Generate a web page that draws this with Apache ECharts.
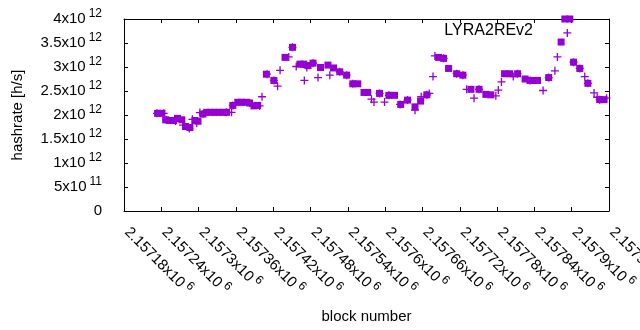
<!DOCTYPE html>
<html><head><meta charset="utf-8">
<script src="https://cdn.jsdelivr.net/npm/echarts@6/dist/echarts.min.js"></script>
<style>html,body{margin:0;padding:0;background:#fff}#c{width:640px;height:330px}</style>
</head><body><div id="c"></div>
<script>
// block numbers and hashrate (in units of 10^12 h/s), filled-square series
const squareBlocks = [2157234,2157241,2157247,2157254,2157260,2157266,2157273,2157279,2157286,2157294,2157299,2157307,2157313,2157319,2157326,2157332,2157339,2157345,2157355,2157363,2157369,2157376,2157382,2157389,2157395,2157409,2157421,2157439,2157451,2157463,2157469,2157476,2157484,2157496,2157508,2157517,2157527,2157538,2157548,2157556,2157566,2157572,2157591,2157606,2157615,2157625,2157636,2157648,2157657,2157667,2157686,2157694,2157702,2157715,2157725,2157738,2157751,2157762,2157770,2157792,2157800,2157813,2157825,2157833,2157839,2157845,2157863,2157883,2157889,2157897,2157903,2157913,2157926,2157945,2157952];
const squareHashrateT = [2.035,2.035,1.90,1.885,1.885,1.93,1.90,1.76,1.74,1.885,1.87,2.02,2.056,2.056,2.056,2.056,2.056,2.056,2.20,2.265,2.265,2.265,2.25,2.19,2.20,2.85,2.72,3.20,3.41,3.06,3.06,3.03,3.08,2.99,3.04,2.98,2.90,2.83,2.65,2.65,2.47,2.47,2.45,2.41,2.41,2.22,2.31,2.17,2.29,2.42,3.20,3.18,2.97,2.86,2.83,2.535,2.535,2.43,2.42,2.86,2.86,2.86,2.75,2.72,2.72,2.72,2.78,3.52,4.00,4.00,3.10,2.97,2.66,2.32,2.32];
// plus-marker series
const plusBlocks = [2157233,2157244,2157248,2157263,2157275,2157285,2157290,2157297,2157302,2157307,2157345,2157353,2157355,2157382,2157398,2157402,2157410,2157421,2157427,2157431,2157445,2157451,2157457,2157470,2157474,2157484,2157492,2157511,2157527,2157538,2157548,2157578,2157582,2157591,2157599,2157606,2157624,2157636,2157648,2157658,2157667,2157671,2157677,2157680,2157694,2157715,2157725,2157731,2157743,2157751,2157778,2157782,2157787,2157806,2157813,2157833,2157854,2157863,2157873,2157877,2157893,2157903,2157913,2157921,2157926,2157936,2157941,2157945,2157956];
const plusHashrateT = [2.035,2.035,1.896,1.875,1.79,1.72,1.91,1.83,2.05,2.02,2.056,2.056,2.20,2.25,2.19,2.38,2.85,2.72,2.60,2.93,3.21,3.41,3.01,2.72,2.99,3.08,2.78,2.83,2.90,2.83,2.65,2.33,2.27,2.45,2.27,2.41,2.22,2.31,2.10,2.38,2.42,2.45,2.80,3.23,3.18,2.86,2.83,2.535,2.35,2.535,2.40,2.52,2.69,2.80,2.86,2.72,2.51,2.78,2.92,3.21,3.71,3.10,2.97,2.80,2.66,2.46,2.37,2.32,2.35];

const xMin = 2157180, xMax = 2157960, xStep = 60;
const yMin = 0, yMax = 4e12, yStep = 5e11;
const keyTitle = 'LYRA2REv2';
const xTitle = 'block number';
const yTitle = 'hashrate [h/s]';
const purple = '#9400d3';
const FONT = 'Liberation Sans, Arial, sans-serif';

const chart = echarts.init(document.getElementById('c'), null, {renderer: 'canvas'});

function xFmt(v) {
  const m = parseFloat((v / 1e6).toFixed(5));
  return '{a|' + m + 'x10}{s|6}';
}
function yFmt(v) {
  if (v === 0) return '{a|0}';
  const e = Math.floor(Math.log10(v) + 1e-9);
  const m = parseFloat((v / Math.pow(10, e)).toFixed(2));
  return '{a|' + m + 'x10}{s|' + e + '}';
}
const richY = {
  a: {fontSize: 15, fontFamily: FONT, color: '#000'},
  s: {fontSize: 12, fontFamily: FONT, color: '#000', padding: [0, 0, 10, 3]}
};
const richX = {
  a: {fontSize: 15, fontFamily: FONT, color: '#000', padding: [0, 0, 0, 4]},
  s: {fontSize: 12, fontFamily: FONT, color: '#000', padding: [0, 0, 10, 3]}
};
const lineStyle = {color: '#000', width: 1};
const baseAxis = {
  type: 'value',
  axisLine: {show: true, onZero: false, lineStyle},
  axisTick: {show: true, inside: true, length: 4, lineStyle},
  splitLine: {show: false},
  minorTick: {show: false}
};
const plusPath = 'path://M0,3.35H8V4.65H0Z M3.35,0H4.65V8H3.35Z';

chart.setOption({
  animation: false,
  backgroundColor: '#fff',
  grid: {left: 124, right: 31, top: 19, bottom: 119, containLabel: false, outerBoundsMode: 'none'},
  xAxis: [
    Object.assign({}, baseAxis, {
      position: 'bottom', min: xMin, max: xMax, interval: xStep,
      axisLabel: {rotate: -45, margin: 16, formatter: xFmt, rich: richX, showMaxLabel: true, showMinLabel: true, hideOverlap: false},
      name: xTitle, nameLocation: 'middle', nameGap: 98,
      nameTextStyle: {fontSize: 15, fontFamily: FONT, color: '#000'}
    }),
    Object.assign({}, baseAxis, {
      position: 'top', min: xMin, max: xMax, interval: xStep,
      axisLabel: {show: false}
    })
  ],
  yAxis: [
    Object.assign({}, baseAxis, {
      position: 'left', min: yMin, max: yMax, interval: yStep,
      axisLabel: {margin: 22, formatter: yFmt, rich: richY},
      name: yTitle, nameLocation: 'middle', nameGap: 99,
      nameTextStyle: {fontSize: 15, fontFamily: FONT, color: '#000'}
    }),
    Object.assign({}, baseAxis, {
      position: 'right', min: yMin, max: yMax, interval: yStep,
      axisLabel: {show: false}
    })
  ],
  graphic: [{
    type: 'text', right: 107, top: 23,
    style: {text: keyTitle, fontSize: 16, fontFamily: FONT, fill: '#000'}
  }],
  series: [
    {
      type: 'scatter', name: keyTitle, symbol: 'rect', symbolSize: 7, clip: false,
      itemStyle: {color: purple, opacity: 1},
      emphasis: {disabled: true},
      data: squareBlocks.map((b, i) => [b, squareHashrateT[i] * 1e12]),
      z: 2
    },
    {
      type: 'scatter', symbol: plusPath, symbolSize: 8, clip: false,
      itemStyle: {color: purple, opacity: 1},
      emphasis: {disabled: true},
      data: plusBlocks.map((b, i) => [b, plusHashrateT[i] * 1e12]),
      z: 3
    }
  ]
});
</script>
</body></html>
